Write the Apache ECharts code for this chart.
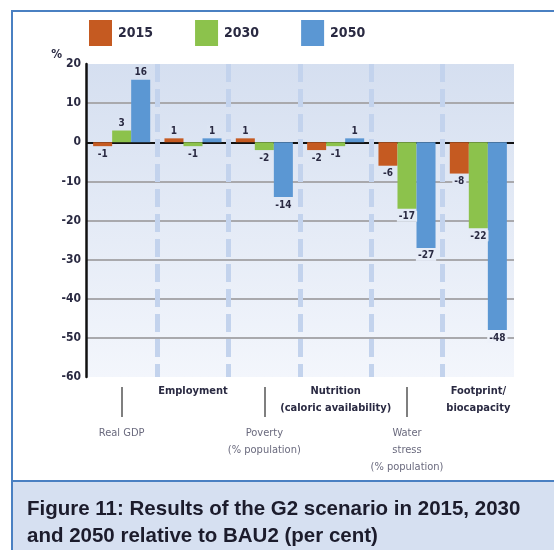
<!DOCTYPE html>
<html>
<head>
<meta charset="utf-8">
<script src="https://cdn.jsdelivr.net/npm/echarts@6/dist/echarts.min.js"></script>
<style>html,body{margin:0;padding:0;background:#fff;}#c{width:554px;height:550px;}</style>
</head>
<body>
<div id="c"></div>
<script>
const categories = ['Real GDP', 'Employment', 'Poverty\n(% population)', 'Nutrition\n(caloric availability)', 'Water\nstress\n(% population)', 'Footprint/\nbiocapacity'];
const years = ['2015', '2030', '2050'];
const values2015 = [-1, 1, 1, -2, -6, -8];
const values2030 = [3, -1, -2, -1, -17, -22];
const values2050 = [16, 1, -14, 1, -27, -48];
const yMin = -60, yMax = 20, yStep = 10;
const colors = ['#c55a21', '#8cc24c', '#5b97d3'];
const captionLines = ['Figure 11: Results of the G2 scenario in 2015, 2030', 'and 2050 relative to BAU2 (per cent)'];

const FONT = "'Liberation Sans Narrow', 'DejaVu Sans Condensed', 'Liberation Sans', sans-serif";
const TXT = '#2a2a42';
const CLEAR = 'rgba(0,0,0,0)';

function bgAt(v) {
  let t = (yMax - v + 2) / (yMax - yMin);
  t = Math.max(0, Math.min(1, t));
  const a = [213, 223, 240], b = [242, 245, 251];
  const c = a.map((x, i) => Math.round(x + (b[i] - x) * t));
  return 'rgb(' + c.join(',') + ')';
}
function mkData(arr) {
  return arr.map(v => ({
    value: v,
    label: { position: v < 0 ? 'bottom' : 'top', backgroundColor: bgAt(v) }
  }));
}
const seriesVals = [values2015, values2030, values2050];

// horizontal grid line colours, from min to max
const gridColors = [];
for (let v = yMin; v <= yMax; v += yStep) {
  if (v === yMin || v === yMax) gridColors.push(CLEAR);
  else if (v === 0) gridColors.push('#111');
  else gridColors.push('#a9a9ad');
}
// vertical separators: hide the two outer boundaries
const sepColors = [];
for (let i = 0; i <= categories.length; i++) {
  sepColors.push(i === 0 || i === categories.length ? CLEAR : '#c3d3ed');
}

const chart = echarts.init(document.getElementById('c'), null, { renderer: 'canvas' });
chart.setOption({
  animation: false,
  textStyle: { fontFamily: FONT },
  graphic: [
    { type: 'rect', z: 0, shape: { x: 12, y: 11, width: 600, height: 600 }, style: { fill: 'none', stroke: '#4a80c2', lineWidth: 2 } },
    { type: 'rect', z: 0, shape: { x: 12, y: 481, width: 600, height: 120 }, style: { fill: '#d6e0f1', stroke: '#4a80c2', lineWidth: 2 } }
  ],
  title: {
    text: captionLines.join('\n'),
    left: 22, top: 491, z: 10,
    textStyle: { fontFamily: "'Liberation Sans', sans-serif", fontSize: 20.5, fontWeight: 'bold', color: '#1c1c2c', lineHeight: 27 }
  },
  legend: {
    top: 15, left: 84,
    itemWidth: 23, itemHeight: 26, itemGap: 42,
    icon: 'rect',
    data: years,
    textStyle: { fontFamily: FONT, fontSize: 14, fontWeight: 'bold', color: TXT, width: 44, padding: [0, 0, 0, 1] }
  },
  grid: {
    left: 86, right: 40, top: 64, bottom: 173,
    show: true, borderWidth: 0,
    backgroundColor: { type: 'linear', x: 0, y: 0, x2: 0, y2: 1, colorStops: [{ offset: 0, color: '#d5dff0' }, { offset: 1, color: '#f3f6fc' }] }
  },
  xAxis: [
    {
      type: 'category', data: categories, position: 'bottom',
      axisLine: { show: false }, axisTick: { show: false },
      splitLine: { show: true, interval: 0, lineStyle: { color: sepColors, width: 5, type: [18, 7] } },
      axisLabel: {
        interval: 0, margin: 6, fontSize: 11, fontWeight: 'bold', color: TXT, lineHeight: 17,
        formatter: (v, i) => (i % 2 === 1 ? v : '')
      }
    },
    {
      type: 'category', data: categories, position: 'bottom', offset: 10,
      axisLine: { show: false },
      axisTick: { show: true, alignWithLabel: true, interval: (i) => i % 2 === 0, length: 30, lineStyle: { color: '#555', width: 1.5 } },
      splitLine: { show: false },
      axisLabel: {
        interval: 0, margin: 38, fontSize: 11, color: '#6a6a7e', lineHeight: 17,
        formatter: (v, i) => (i % 2 === 0 ? v : '')
      }
    }
  ],
  yAxis: {
    type: 'value', min: yMin, max: yMax, interval: yStep,
    name: '%', nameLocation: 'end', nameGap: 9, nameMoveOverlap: false,
    nameTextStyle: { align: 'right', verticalAlign: 'middle', padding: [0, 24, 0, 0], fontSize: 12, fontWeight: 'bold', color: TXT },
    axisLine: { show: true, lineStyle: { color: '#111', width: 2.5 } },
    axisTick: { show: false },
    axisLabel: { margin: 5, fontSize: 12, fontWeight: 'bold', color: TXT },
    splitLine: { show: true, lineStyle: { color: gridColors, width: 2 } }
  },
  series: years.map((y, k) => ({
    name: y, type: 'bar', xAxisIndex: 0,
    barGap: '0%', barCategoryGap: '20%',
    itemStyle: { color: colors[k] },
    label: { show: true, distance: 2, fontSize: 10, fontWeight: 'bold', color: TXT, padding: [1, 2, 0, 2] },
    data: mkData(seriesVals[k])
  }))
});
</script>
</body>
</html>
